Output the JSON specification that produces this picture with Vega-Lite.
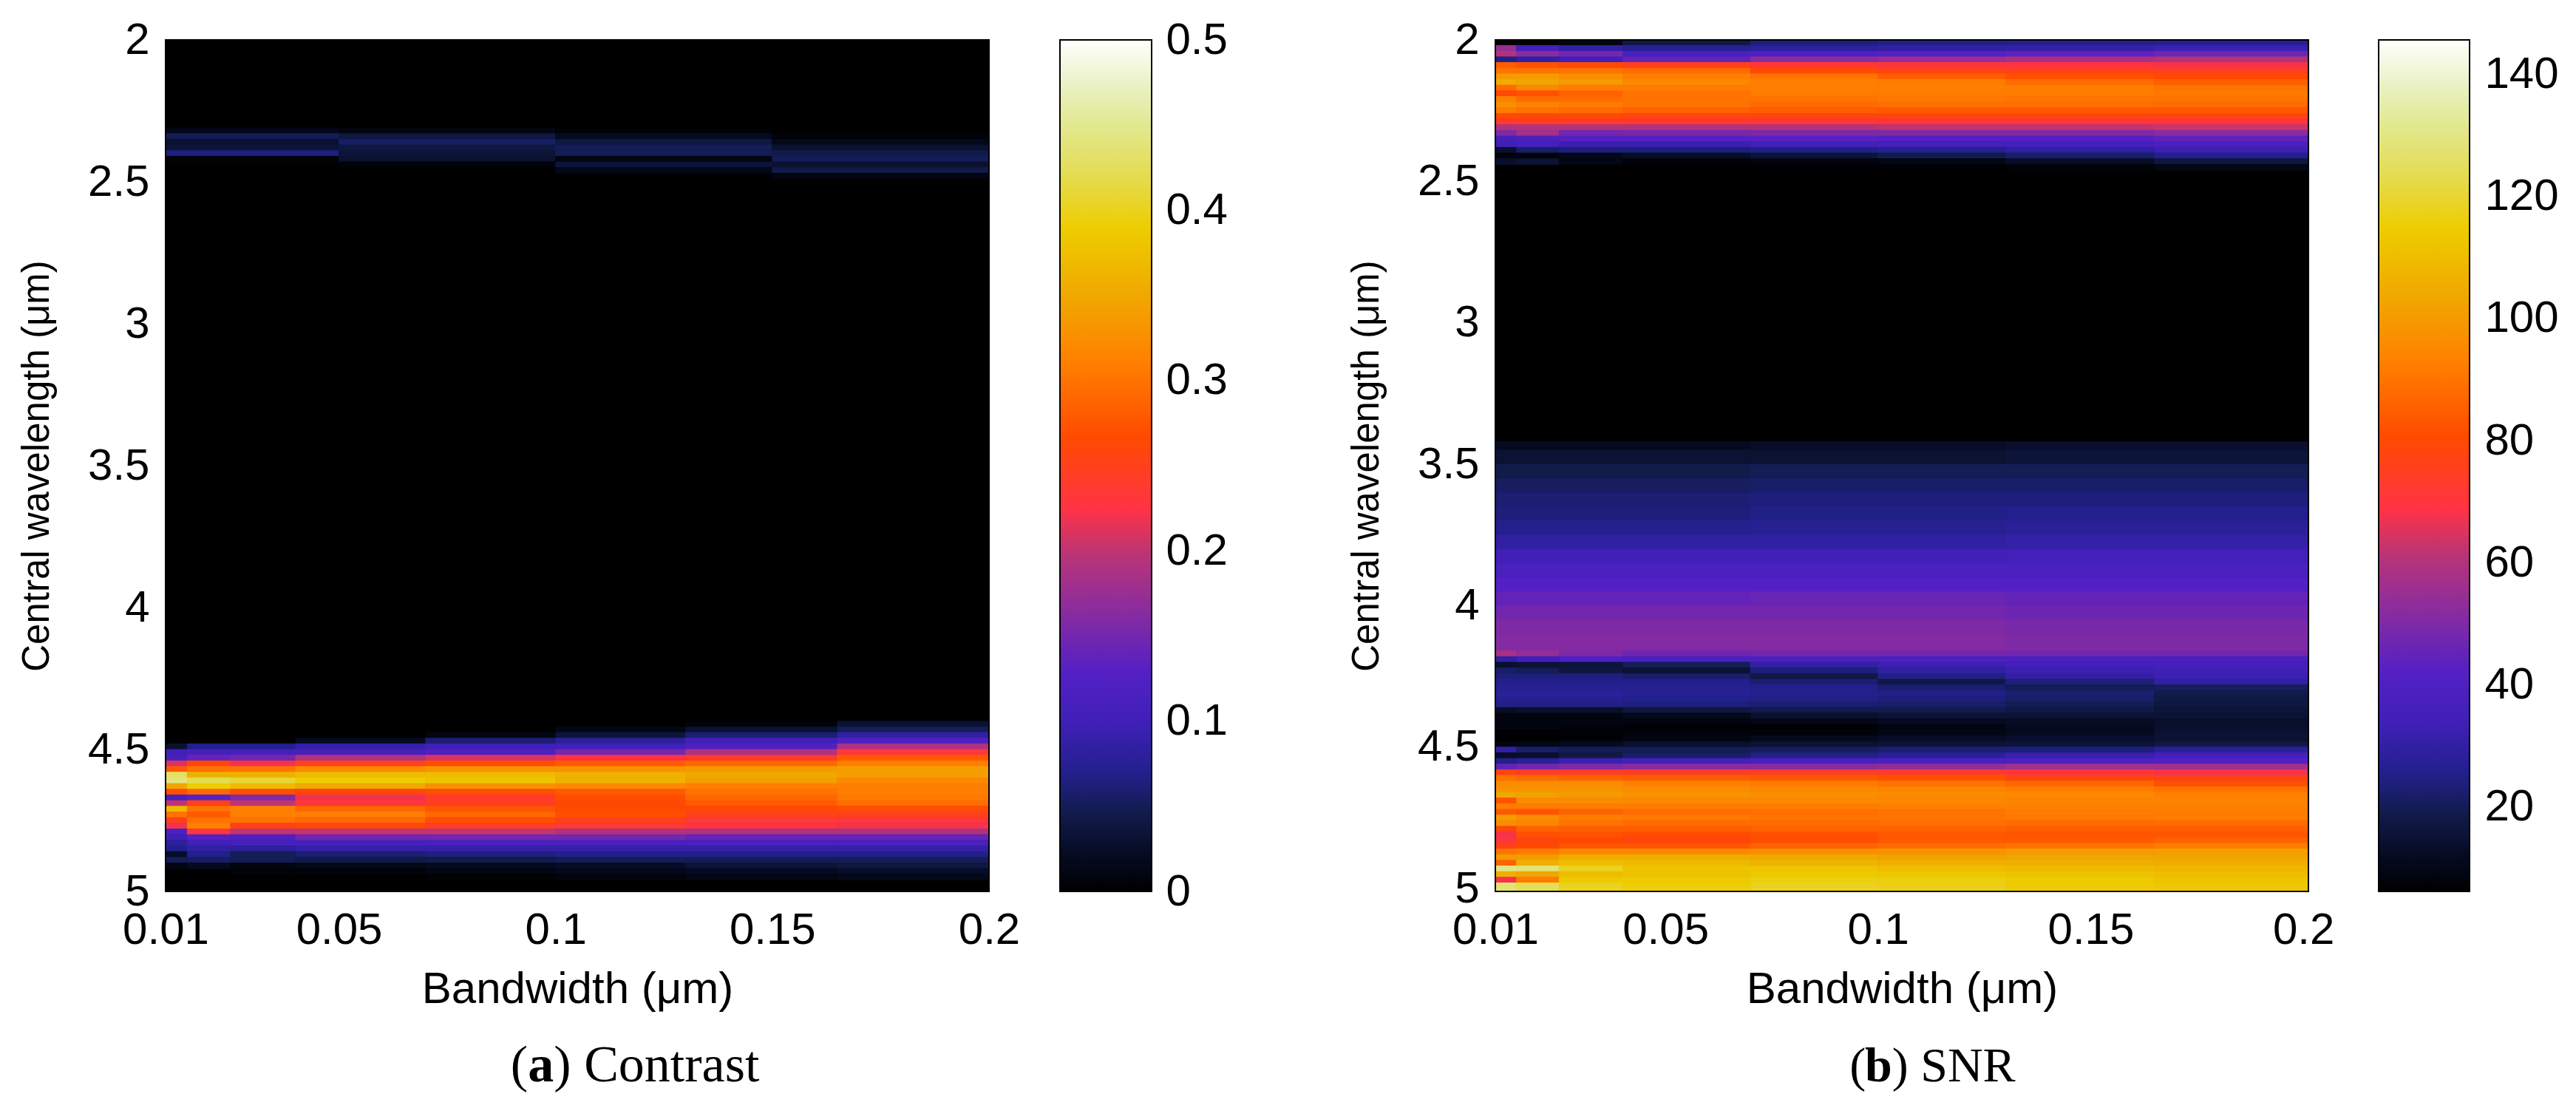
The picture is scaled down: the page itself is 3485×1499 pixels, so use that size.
{"$schema":"https://vega.github.io/schema/vega-lite/v6.json","background":"white","padding":{"left":24,"top":24,"right":10,"bottom":10},"spacing":162,"resolve":{"scale":{"color":"independent","stroke":"independent"}},
"config":{"view":{"stroke":null},"axis":{"grid":false,"labelFont":"Liberation Sans","titleFont":"Liberation Sans","labelFontSize":60,"titleFontSize":60,"titleFontWeight":"normal","labelColor":"black","titleColor":"black","domainColor":"black","tickColor":"black","labelFlush":false,"labelOverlap":false,"zindex":1}},
"datasets":{
"frameA":[{"x":0.01,"X":0.2,"y":2,"Y":5}],
"frameB":[{"x":0.01,"X":0.2012,"y":2,"Y":5.01}],
"a":[{"x":0.01,"X":0.2,"y":2,"Y":5,"v":0},
{"x":0.01,"X":0.05,"y":2.31,"Y":2.33,"v":0.015},{"x":0.05,"X":0.1,"y":2.31,"Y":2.33,"v":0.01},{"x":0.1,"X":0.15,"y":2.31,"Y":2.33,"v":0.003},
{"x":0.01,"X":0.05,"y":2.33,"Y":2.35,"v":0.05},{"x":0.05,"X":0.1,"y":2.33,"Y":2.35,"v":0.04},{"x":0.1,"X":0.15,"y":2.33,"Y":2.35,"v":0.02},{"x":0.15,"X":0.2,"y":2.33,"Y":2.35,"v":0.005},
{"x":0.01,"X":0.05,"y":2.35,"Y":2.37,"v":0.03},{"x":0.05,"X":0.1,"y":2.35,"Y":2.37,"v":0.055},{"x":0.1,"X":0.15,"y":2.35,"Y":2.37,"v":0.04},{"x":0.15,"X":0.2,"y":2.35,"Y":2.37,"v":0.015},
{"x":0.01,"X":0.05,"y":2.37,"Y":2.39,"v":0.035},{"x":0.05,"X":0.1,"y":2.37,"Y":2.39,"v":0.04},{"x":0.1,"X":0.15,"y":2.37,"Y":2.39,"v":0.05},{"x":0.15,"X":0.2,"y":2.37,"Y":2.39,"v":0.03},
{"x":0.01,"X":0.05,"y":2.39,"Y":2.41,"v":0.065},{"x":0.05,"X":0.1,"y":2.39,"Y":2.41,"v":0.035},{"x":0.1,"X":0.15,"y":2.39,"Y":2.41,"v":0.05},{"x":0.15,"X":0.2,"y":2.39,"Y":2.41,"v":0.045},
{"x":0.01,"X":0.05,"y":2.41,"Y":2.43,"v":0.005},{"x":0.05,"X":0.1,"y":2.41,"Y":2.43,"v":0.03},{"x":0.1,"X":0.15,"y":2.41,"Y":2.43,"v":0.01},{"x":0.15,"X":0.2,"y":2.41,"Y":2.43,"v":0.05},
{"x":0.05,"X":0.1,"y":2.43,"Y":2.45,"v":0.005},{"x":0.1,"X":0.15,"y":2.43,"Y":2.45,"v":0.035},{"x":0.15,"X":0.2,"y":2.43,"Y":2.45,"v":0.03},
{"x":0.1,"X":0.15,"y":2.45,"Y":2.47,"v":0.015},{"x":0.15,"X":0.2,"y":2.45,"Y":2.47,"v":0.045},
{"x":0.15,"X":0.2,"y":2.47,"Y":2.49,"v":0.01},
{"x":0.13,"X":0.165,"y":4.4,"Y":4.42,"v":0.005},{"x":0.165,"X":0.2,"y":4.4,"Y":4.42,"v":0.03},
{"x":0.1,"X":0.13,"y":4.42,"Y":4.44,"v":0.012},{"x":0.13,"X":0.165,"y":4.42,"Y":4.44,"v":0.03},{"x":0.165,"X":0.2,"y":4.42,"Y":4.44,"v":0.05},
{"x":0.07,"X":0.1,"y":4.44,"Y":4.46,"v":0.01},{"x":0.1,"X":0.13,"y":4.44,"Y":4.46,"v":0.035},{"x":0.13,"X":0.165,"y":4.44,"Y":4.46,"v":0.06},{"x":0.165,"X":0.2,"y":4.44,"Y":4.46,"v":0.085},
{"x":0.04,"X":0.07,"y":4.46,"Y":4.48,"v":0.02},{"x":0.07,"X":0.1,"y":4.46,"Y":4.48,"v":0.06},{"x":0.1,"X":0.13,"y":4.46,"Y":4.48,"v":0.08},{"x":0.13,"X":0.165,"y":4.46,"Y":4.48,"v":0.1},{"x":0.165,"X":0.2,"y":4.46,"Y":4.48,"v":0.12},
{"x":0.01,"X":0.015,"y":4.48,"Y":4.5,"v":0.03},{"x":0.015,"X":0.025,"y":4.48,"Y":4.5,"v":0.07},{"x":0.025,"X":0.04,"y":4.48,"Y":4.5,"v":0.07},{"x":0.04,"X":0.07,"y":4.48,"Y":4.5,"v":0.09},{"x":0.07,"X":0.1,"y":4.48,"Y":4.5,"v":0.1},{"x":0.1,"X":0.13,"y":4.48,"Y":4.5,"v":0.105},{"x":0.13,"X":0.165,"y":4.48,"Y":4.5,"v":0.125},{"x":0.165,"X":0.2,"y":4.48,"Y":4.5,"v":0.19},
{"x":0.01,"X":0.015,"y":4.5,"Y":4.52,"v":0.1},{"x":0.015,"X":0.025,"y":4.5,"Y":4.52,"v":0.11},{"x":0.025,"X":0.04,"y":4.5,"Y":4.52,"v":0.11},{"x":0.04,"X":0.07,"y":4.5,"Y":4.52,"v":0.11},{"x":0.07,"X":0.1,"y":4.5,"Y":4.52,"v":0.12},{"x":0.1,"X":0.13,"y":4.5,"Y":4.52,"v":0.15},{"x":0.13,"X":0.165,"y":4.5,"Y":4.52,"v":0.19},{"x":0.165,"X":0.2,"y":4.5,"Y":4.52,"v":0.23},
{"x":0.01,"X":0.015,"y":4.52,"Y":4.54,"v":0.11},{"x":0.015,"X":0.025,"y":4.52,"Y":4.54,"v":0.14},{"x":0.025,"X":0.04,"y":4.52,"Y":4.54,"v":0.15},{"x":0.04,"X":0.07,"y":4.52,"Y":4.54,"v":0.19},{"x":0.07,"X":0.1,"y":4.52,"Y":4.54,"v":0.21},{"x":0.1,"X":0.13,"y":4.52,"Y":4.54,"v":0.225},{"x":0.13,"X":0.165,"y":4.52,"Y":4.54,"v":0.24},{"x":0.165,"X":0.2,"y":4.52,"Y":4.54,"v":0.28},
{"x":0.01,"X":0.015,"y":4.54,"Y":4.56,"v":0.21},{"x":0.015,"X":0.025,"y":4.54,"Y":4.56,"v":0.26},{"x":0.025,"X":0.04,"y":4.54,"Y":4.56,"v":0.22},{"x":0.04,"X":0.07,"y":4.54,"Y":4.56,"v":0.25},{"x":0.07,"X":0.1,"y":4.54,"Y":4.56,"v":0.27},{"x":0.1,"X":0.13,"y":4.54,"Y":4.56,"v":0.28},{"x":0.13,"X":0.165,"y":4.54,"Y":4.56,"v":0.29},{"x":0.165,"X":0.2,"y":4.54,"Y":4.56,"v":0.31},
{"x":0.01,"X":0.015,"y":4.56,"Y":4.58,"v":0.28},{"x":0.015,"X":0.025,"y":4.56,"Y":4.58,"v":0.3},{"x":0.025,"X":0.04,"y":4.56,"Y":4.58,"v":0.3},{"x":0.04,"X":0.07,"y":4.56,"Y":4.58,"v":0.32},{"x":0.07,"X":0.1,"y":4.56,"Y":4.58,"v":0.33},{"x":0.1,"X":0.13,"y":4.56,"Y":4.58,"v":0.33},{"x":0.13,"X":0.165,"y":4.56,"Y":4.58,"v":0.335},{"x":0.165,"X":0.2,"y":4.56,"Y":4.58,"v":0.34},
{"x":0.01,"X":0.015,"y":4.58,"Y":4.6,"v":0.43},{"x":0.015,"X":0.025,"y":4.58,"Y":4.6,"v":0.36},{"x":0.025,"X":0.04,"y":4.58,"Y":4.6,"v":0.36},{"x":0.04,"X":0.07,"y":4.58,"Y":4.6,"v":0.37},{"x":0.07,"X":0.1,"y":4.58,"Y":4.6,"v":0.37},{"x":0.1,"X":0.13,"y":4.58,"Y":4.6,"v":0.36},{"x":0.13,"X":0.165,"y":4.58,"Y":4.6,"v":0.35},{"x":0.165,"X":0.2,"y":4.58,"Y":4.6,"v":0.34},
{"x":0.01,"X":0.015,"y":4.6,"Y":4.62,"v":0.44},{"x":0.015,"X":0.025,"y":4.6,"Y":4.62,"v":0.42},{"x":0.025,"X":0.04,"y":4.6,"Y":4.62,"v":0.41},{"x":0.04,"X":0.07,"y":4.6,"Y":4.62,"v":0.39},{"x":0.07,"X":0.1,"y":4.6,"Y":4.62,"v":0.38},{"x":0.1,"X":0.13,"y":4.6,"Y":4.62,"v":0.36},{"x":0.13,"X":0.165,"y":4.6,"Y":4.62,"v":0.34},{"x":0.165,"X":0.2,"y":4.6,"Y":4.62,"v":0.32},
{"x":0.01,"X":0.015,"y":4.62,"Y":4.64,"v":0.35},{"x":0.015,"X":0.025,"y":4.62,"Y":4.64,"v":0.39},{"x":0.025,"X":0.04,"y":4.62,"Y":4.64,"v":0.37},{"x":0.04,"X":0.07,"y":4.62,"Y":4.64,"v":0.35},{"x":0.07,"X":0.1,"y":4.62,"Y":4.64,"v":0.33},{"x":0.1,"X":0.13,"y":4.62,"Y":4.64,"v":0.32},{"x":0.13,"X":0.165,"y":4.62,"Y":4.64,"v":0.31},{"x":0.165,"X":0.2,"y":4.62,"Y":4.64,"v":0.31},
{"x":0.01,"X":0.015,"y":4.64,"Y":4.66,"v":0.27},{"x":0.015,"X":0.025,"y":4.64,"Y":4.66,"v":0.29},{"x":0.025,"X":0.04,"y":4.64,"Y":4.66,"v":0.27},{"x":0.04,"X":0.07,"y":4.64,"Y":4.66,"v":0.26},{"x":0.07,"X":0.1,"y":4.64,"Y":4.66,"v":0.27},{"x":0.1,"X":0.13,"y":4.64,"Y":4.66,"v":0.28},{"x":0.13,"X":0.165,"y":4.64,"Y":4.66,"v":0.3},{"x":0.165,"X":0.2,"y":4.64,"Y":4.66,"v":0.31},
{"x":0.01,"X":0.015,"y":4.66,"Y":4.68,"v":0.11},{"x":0.015,"X":0.025,"y":4.66,"Y":4.68,"v":0.13},{"x":0.025,"X":0.04,"y":4.66,"Y":4.68,"v":0.16},{"x":0.04,"X":0.07,"y":4.66,"Y":4.68,"v":0.22},{"x":0.07,"X":0.1,"y":4.66,"Y":4.68,"v":0.24},{"x":0.1,"X":0.13,"y":4.66,"Y":4.68,"v":0.27},{"x":0.13,"X":0.165,"y":4.66,"Y":4.68,"v":0.29},{"x":0.165,"X":0.2,"y":4.66,"Y":4.68,"v":0.305},
{"x":0.01,"X":0.015,"y":4.68,"Y":4.7,"v":0.2},{"x":0.015,"X":0.025,"y":4.68,"Y":4.7,"v":0.25},{"x":0.025,"X":0.04,"y":4.68,"Y":4.7,"v":0.2},{"x":0.04,"X":0.07,"y":4.68,"Y":4.7,"v":0.23},{"x":0.07,"X":0.1,"y":4.68,"Y":4.7,"v":0.245},{"x":0.1,"X":0.13,"y":4.68,"Y":4.7,"v":0.265},{"x":0.13,"X":0.165,"y":4.68,"Y":4.7,"v":0.28},{"x":0.165,"X":0.2,"y":4.68,"Y":4.7,"v":0.295},
{"x":0.01,"X":0.015,"y":4.7,"Y":4.72,"v":0.37},{"x":0.015,"X":0.025,"y":4.7,"Y":4.72,"v":0.3},{"x":0.025,"X":0.04,"y":4.7,"Y":4.72,"v":0.31},{"x":0.04,"X":0.07,"y":4.7,"Y":4.72,"v":0.29},{"x":0.07,"X":0.1,"y":4.7,"Y":4.72,"v":0.275},{"x":0.1,"X":0.13,"y":4.7,"Y":4.72,"v":0.265},{"x":0.13,"X":0.165,"y":4.7,"Y":4.72,"v":0.265},{"x":0.165,"X":0.2,"y":4.7,"Y":4.72,"v":0.27},
{"x":0.01,"X":0.015,"y":4.72,"Y":4.74,"v":0.3},{"x":0.015,"X":0.025,"y":4.72,"Y":4.74,"v":0.28},{"x":0.025,"X":0.04,"y":4.72,"Y":4.74,"v":0.31},{"x":0.04,"X":0.07,"y":4.72,"Y":4.74,"v":0.31},{"x":0.07,"X":0.1,"y":4.72,"Y":4.74,"v":0.29},{"x":0.1,"X":0.13,"y":4.72,"Y":4.74,"v":0.27},{"x":0.13,"X":0.165,"y":4.72,"Y":4.74,"v":0.25},{"x":0.165,"X":0.2,"y":4.72,"Y":4.74,"v":0.25},
{"x":0.01,"X":0.015,"y":4.74,"Y":4.76,"v":0.25},{"x":0.015,"X":0.025,"y":4.74,"Y":4.76,"v":0.3},{"x":0.025,"X":0.04,"y":4.74,"Y":4.76,"v":0.3},{"x":0.04,"X":0.07,"y":4.74,"Y":4.76,"v":0.29},{"x":0.07,"X":0.1,"y":4.74,"Y":4.76,"v":0.27},{"x":0.1,"X":0.13,"y":4.74,"Y":4.76,"v":0.25},{"x":0.13,"X":0.165,"y":4.74,"Y":4.76,"v":0.235},{"x":0.165,"X":0.2,"y":4.74,"Y":4.76,"v":0.23},
{"x":0.01,"X":0.015,"y":4.76,"Y":4.78,"v":0.22},{"x":0.015,"X":0.025,"y":4.76,"Y":4.78,"v":0.31},{"x":0.025,"X":0.04,"y":4.76,"Y":4.78,"v":0.25},{"x":0.04,"X":0.07,"y":4.76,"Y":4.78,"v":0.26},{"x":0.07,"X":0.1,"y":4.76,"Y":4.78,"v":0.245},{"x":0.1,"X":0.13,"y":4.76,"Y":4.78,"v":0.235},{"x":0.13,"X":0.165,"y":4.76,"Y":4.78,"v":0.225},{"x":0.165,"X":0.2,"y":4.76,"Y":4.78,"v":0.22},
{"x":0.01,"X":0.015,"y":4.78,"Y":4.8,"v":0.12},{"x":0.015,"X":0.025,"y":4.78,"Y":4.8,"v":0.23},{"x":0.025,"X":0.04,"y":4.78,"Y":4.8,"v":0.2},{"x":0.04,"X":0.07,"y":4.78,"Y":4.8,"v":0.2},{"x":0.07,"X":0.1,"y":4.78,"Y":4.8,"v":0.2},{"x":0.1,"X":0.13,"y":4.78,"Y":4.8,"v":0.19},{"x":0.13,"X":0.165,"y":4.78,"Y":4.8,"v":0.19},{"x":0.165,"X":0.2,"y":4.78,"Y":4.8,"v":0.19},
{"x":0.01,"X":0.015,"y":4.8,"Y":4.82,"v":0.1},{"x":0.015,"X":0.025,"y":4.8,"Y":4.82,"v":0.13},{"x":0.025,"X":0.04,"y":4.8,"Y":4.82,"v":0.12},{"x":0.04,"X":0.07,"y":4.8,"Y":4.82,"v":0.15},{"x":0.07,"X":0.1,"y":4.8,"Y":4.82,"v":0.15},{"x":0.1,"X":0.13,"y":4.8,"Y":4.82,"v":0.15},{"x":0.13,"X":0.165,"y":4.8,"Y":4.82,"v":0.14},{"x":0.165,"X":0.2,"y":4.8,"Y":4.82,"v":0.14},
{"x":0.01,"X":0.015,"y":4.82,"Y":4.84,"v":0.08},{"x":0.015,"X":0.025,"y":4.82,"Y":4.84,"v":0.1},{"x":0.025,"X":0.04,"y":4.82,"Y":4.84,"v":0.11},{"x":0.04,"X":0.07,"y":4.82,"Y":4.84,"v":0.11},{"x":0.07,"X":0.1,"y":4.82,"Y":4.84,"v":0.115},{"x":0.1,"X":0.13,"y":4.82,"Y":4.84,"v":0.115},{"x":0.13,"X":0.165,"y":4.82,"Y":4.84,"v":0.115},{"x":0.165,"X":0.2,"y":4.82,"Y":4.84,"v":0.115},
{"x":0.01,"X":0.015,"y":4.84,"Y":4.86,"v":0.07},{"x":0.015,"X":0.025,"y":4.84,"Y":4.86,"v":0.085},{"x":0.025,"X":0.04,"y":4.84,"Y":4.86,"v":0.08},{"x":0.04,"X":0.07,"y":4.84,"Y":4.86,"v":0.09},{"x":0.07,"X":0.1,"y":4.84,"Y":4.86,"v":0.09},{"x":0.1,"X":0.13,"y":4.84,"Y":4.86,"v":0.09},{"x":0.13,"X":0.165,"y":4.84,"Y":4.86,"v":0.09},{"x":0.165,"X":0.2,"y":4.84,"Y":4.86,"v":0.09},
{"x":0.01,"X":0.015,"y":4.86,"Y":4.88,"v":0.025},{"x":0.015,"X":0.025,"y":4.86,"Y":4.88,"v":0.07},{"x":0.025,"X":0.04,"y":4.86,"Y":4.88,"v":0.05},{"x":0.04,"X":0.07,"y":4.86,"Y":4.88,"v":0.06},{"x":0.07,"X":0.1,"y":4.86,"Y":4.88,"v":0.065},{"x":0.1,"X":0.13,"y":4.86,"Y":4.88,"v":0.07},{"x":0.13,"X":0.165,"y":4.86,"Y":4.88,"v":0.07},{"x":0.165,"X":0.2,"y":4.86,"Y":4.88,"v":0.07},
{"x":0.01,"X":0.015,"y":4.88,"Y":4.9,"v":0.05},{"x":0.015,"X":0.025,"y":4.88,"Y":4.9,"v":0.055},{"x":0.025,"X":0.04,"y":4.88,"Y":4.9,"v":0.05},{"x":0.04,"X":0.07,"y":4.88,"Y":4.9,"v":0.045},{"x":0.07,"X":0.1,"y":4.88,"Y":4.9,"v":0.045},{"x":0.1,"X":0.13,"y":4.88,"Y":4.9,"v":0.05},{"x":0.13,"X":0.165,"y":4.88,"Y":4.9,"v":0.05},{"x":0.165,"X":0.2,"y":4.88,"Y":4.9,"v":0.05},
{"x":0.01,"X":0.015,"y":4.9,"Y":4.92,"v":0.01},{"x":0.015,"X":0.025,"y":4.9,"Y":4.92,"v":0.02},{"x":0.025,"X":0.04,"y":4.9,"Y":4.92,"v":0.01},{"x":0.04,"X":0.07,"y":4.9,"Y":4.92,"v":0.015},{"x":0.07,"X":0.1,"y":4.9,"Y":4.92,"v":0.02},{"x":0.1,"X":0.13,"y":4.9,"Y":4.92,"v":0.025},{"x":0.13,"X":0.165,"y":4.9,"Y":4.92,"v":0.035},{"x":0.165,"X":0.2,"y":4.9,"Y":4.92,"v":0.04},
{"x":0.025,"X":0.04,"y":4.92,"Y":4.94,"v":0.005},{"x":0.04,"X":0.07,"y":4.92,"Y":4.94,"v":0.005},{"x":0.07,"X":0.1,"y":4.92,"Y":4.94,"v":0.01},{"x":0.1,"X":0.13,"y":4.92,"Y":4.94,"v":0.015},{"x":0.13,"X":0.165,"y":4.92,"Y":4.94,"v":0.02},{"x":0.165,"X":0.2,"y":4.92,"Y":4.94,"v":0.025},
{"x":0.07,"X":0.1,"y":4.94,"Y":4.96,"v":0.003},{"x":0.1,"X":0.13,"y":4.94,"Y":4.96,"v":0.008},{"x":0.13,"X":0.165,"y":4.94,"Y":4.96,"v":0.012},{"x":0.165,"X":0.2,"y":4.94,"Y":4.96,"v":0.015}],
"b":[{"x":0.01,"X":0.2012,"y":2,"Y":5.01,"v":6.2},
{"x":0.01,"X":0.015,"y":2,"Y":2.02,"v":7},{"x":0.015,"X":0.025,"y":2,"Y":2.02,"v":7},{"x":0.025,"X":0.04,"y":2,"Y":2.02,"v":9},{"x":0.04,"X":0.07,"y":2,"Y":2.02,"v":18},{"x":0.07,"X":0.1,"y":2,"Y":2.02,"v":24},{"x":0.1,"X":0.13,"y":2,"Y":2.02,"v":25},{"x":0.13,"X":0.165,"y":2,"Y":2.02,"v":26},{"x":0.165,"X":0.2012,"y":2,"Y":2.02,"v":27},
{"x":0.01,"X":0.015,"y":2.02,"Y":2.04,"v":55},{"x":0.015,"X":0.025,"y":2.02,"Y":2.04,"v":36},{"x":0.025,"X":0.04,"y":2.02,"Y":2.04,"v":30},{"x":0.04,"X":0.07,"y":2.02,"Y":2.04,"v":27},{"x":0.07,"X":0.1,"y":2.02,"Y":2.04,"v":29},{"x":0.1,"X":0.13,"y":2.02,"Y":2.04,"v":30},{"x":0.13,"X":0.165,"y":2.02,"Y":2.04,"v":31},{"x":0.165,"X":0.2012,"y":2.02,"Y":2.04,"v":33},
{"x":0.01,"X":0.015,"y":2.04,"Y":2.06,"v":60},{"x":0.015,"X":0.025,"y":2.04,"Y":2.06,"v":52},{"x":0.025,"X":0.04,"y":2.04,"Y":2.06,"v":48},{"x":0.04,"X":0.07,"y":2.04,"Y":2.06,"v":38},{"x":0.07,"X":0.1,"y":2.04,"Y":2.06,"v":40},{"x":0.1,"X":0.13,"y":2.04,"Y":2.06,"v":42},{"x":0.13,"X":0.165,"y":2.04,"Y":2.06,"v":44},{"x":0.165,"X":0.2012,"y":2.04,"Y":2.06,"v":47},
{"x":0.01,"X":0.015,"y":2.06,"Y":2.08,"v":25},{"x":0.015,"X":0.025,"y":2.06,"Y":2.08,"v":30},{"x":0.025,"X":0.04,"y":2.06,"Y":2.08,"v":35},{"x":0.04,"X":0.07,"y":2.06,"Y":2.08,"v":45},{"x":0.07,"X":0.1,"y":2.06,"Y":2.08,"v":52},{"x":0.1,"X":0.13,"y":2.06,"Y":2.08,"v":55},{"x":0.13,"X":0.165,"y":2.06,"Y":2.08,"v":58},{"x":0.165,"X":0.2012,"y":2.06,"Y":2.08,"v":60},
{"x":0.01,"X":0.015,"y":2.08,"Y":2.1,"v":85},{"x":0.015,"X":0.025,"y":2.08,"Y":2.1,"v":82},{"x":0.025,"X":0.04,"y":2.08,"Y":2.1,"v":80},{"x":0.04,"X":0.07,"y":2.08,"Y":2.1,"v":76},{"x":0.07,"X":0.1,"y":2.08,"Y":2.1,"v":72},{"x":0.1,"X":0.13,"y":2.08,"Y":2.1,"v":70},{"x":0.13,"X":0.165,"y":2.08,"Y":2.1,"v":69},{"x":0.165,"X":0.2012,"y":2.08,"Y":2.1,"v":68},
{"x":0.01,"X":0.015,"y":2.1,"Y":2.12,"v":90},{"x":0.015,"X":0.025,"y":2.1,"Y":2.12,"v":90},{"x":0.025,"X":0.04,"y":2.1,"Y":2.12,"v":90},{"x":0.04,"X":0.07,"y":2.1,"Y":2.12,"v":88},{"x":0.07,"X":0.1,"y":2.1,"Y":2.12,"v":80},{"x":0.1,"X":0.13,"y":2.1,"Y":2.12,"v":77},{"x":0.13,"X":0.165,"y":2.1,"Y":2.12,"v":76},{"x":0.165,"X":0.2012,"y":2.1,"Y":2.12,"v":75},
{"x":0.01,"X":0.015,"y":2.12,"Y":2.14,"v":100},{"x":0.015,"X":0.025,"y":2.12,"Y":2.14,"v":100},{"x":0.025,"X":0.04,"y":2.12,"Y":2.14,"v":97},{"x":0.04,"X":0.07,"y":2.12,"Y":2.14,"v":93},{"x":0.07,"X":0.1,"y":2.12,"Y":2.14,"v":90},{"x":0.1,"X":0.13,"y":2.12,"Y":2.14,"v":85},{"x":0.13,"X":0.165,"y":2.12,"Y":2.14,"v":82},{"x":0.165,"X":0.2012,"y":2.12,"Y":2.14,"v":80},
{"x":0.01,"X":0.015,"y":2.14,"Y":2.16,"v":105},{"x":0.015,"X":0.025,"y":2.14,"Y":2.16,"v":103},{"x":0.025,"X":0.04,"y":2.14,"Y":2.16,"v":100},{"x":0.04,"X":0.07,"y":2.14,"Y":2.16,"v":95},{"x":0.07,"X":0.1,"y":2.14,"Y":2.16,"v":93},{"x":0.1,"X":0.13,"y":2.14,"Y":2.16,"v":92},{"x":0.13,"X":0.165,"y":2.14,"Y":2.16,"v":88},{"x":0.165,"X":0.2012,"y":2.14,"Y":2.16,"v":85},
{"x":0.01,"X":0.015,"y":2.16,"Y":2.18,"v":88},{"x":0.015,"X":0.025,"y":2.16,"Y":2.18,"v":95},{"x":0.025,"X":0.04,"y":2.16,"Y":2.18,"v":92},{"x":0.04,"X":0.07,"y":2.16,"Y":2.18,"v":92},{"x":0.07,"X":0.1,"y":2.16,"Y":2.18,"v":93},{"x":0.1,"X":0.13,"y":2.16,"Y":2.18,"v":93},{"x":0.13,"X":0.165,"y":2.16,"Y":2.18,"v":92},{"x":0.165,"X":0.2012,"y":2.16,"Y":2.18,"v":90},
{"x":0.01,"X":0.015,"y":2.18,"Y":2.2,"v":80},{"x":0.015,"X":0.025,"y":2.18,"Y":2.2,"v":82},{"x":0.025,"X":0.04,"y":2.18,"Y":2.2,"v":86},{"x":0.04,"X":0.07,"y":2.18,"Y":2.2,"v":90},{"x":0.07,"X":0.1,"y":2.18,"Y":2.2,"v":92},{"x":0.1,"X":0.13,"y":2.18,"Y":2.2,"v":92},{"x":0.13,"X":0.165,"y":2.18,"Y":2.2,"v":92},{"x":0.165,"X":0.2012,"y":2.18,"Y":2.2,"v":91},
{"x":0.01,"X":0.015,"y":2.2,"Y":2.22,"v":93},{"x":0.015,"X":0.025,"y":2.2,"Y":2.22,"v":88},{"x":0.025,"X":0.04,"y":2.2,"Y":2.22,"v":88},{"x":0.04,"X":0.07,"y":2.2,"Y":2.22,"v":90},{"x":0.07,"X":0.1,"y":2.2,"Y":2.22,"v":90},{"x":0.1,"X":0.13,"y":2.2,"Y":2.22,"v":91},{"x":0.13,"X":0.165,"y":2.2,"Y":2.22,"v":90},{"x":0.165,"X":0.2012,"y":2.2,"Y":2.22,"v":90},
{"x":0.01,"X":0.015,"y":2.22,"Y":2.24,"v":97},{"x":0.015,"X":0.025,"y":2.22,"Y":2.24,"v":94},{"x":0.025,"X":0.04,"y":2.22,"Y":2.24,"v":92},{"x":0.04,"X":0.07,"y":2.22,"Y":2.24,"v":90},{"x":0.07,"X":0.1,"y":2.22,"Y":2.24,"v":88},{"x":0.1,"X":0.13,"y":2.22,"Y":2.24,"v":89},{"x":0.13,"X":0.165,"y":2.22,"Y":2.24,"v":89},{"x":0.165,"X":0.2012,"y":2.22,"Y":2.24,"v":88},
{"x":0.01,"X":0.015,"y":2.24,"Y":2.26,"v":92},{"x":0.015,"X":0.025,"y":2.24,"Y":2.26,"v":90},{"x":0.025,"X":0.04,"y":2.24,"Y":2.26,"v":88},{"x":0.04,"X":0.07,"y":2.24,"Y":2.26,"v":86},{"x":0.07,"X":0.1,"y":2.24,"Y":2.26,"v":85},{"x":0.1,"X":0.13,"y":2.24,"Y":2.26,"v":84},{"x":0.13,"X":0.165,"y":2.24,"Y":2.26,"v":84},{"x":0.165,"X":0.2012,"y":2.24,"Y":2.26,"v":84},
{"x":0.01,"X":0.04,"y":2.26,"Y":2.28,"v":80},{"x":0.04,"X":0.2012,"y":2.26,"Y":2.28,"v":78},
{"x":0.01,"X":0.015,"y":2.28,"Y":2.3,"v":72},{"x":0.015,"X":0.025,"y":2.28,"Y":2.3,"v":74},{"x":0.025,"X":0.04,"y":2.28,"Y":2.3,"v":73},{"x":0.04,"X":0.07,"y":2.28,"Y":2.3,"v":72},{"x":0.07,"X":0.1,"y":2.28,"Y":2.3,"v":71},{"x":0.1,"X":0.2012,"y":2.28,"Y":2.3,"v":70},
{"x":0.01,"X":0.1,"y":2.3,"Y":2.32,"v":60},{"x":0.1,"X":0.165,"y":2.3,"Y":2.32,"v":62},{"x":0.165,"X":0.2012,"y":2.3,"Y":2.32,"v":63},
{"x":0.01,"X":0.015,"y":2.32,"Y":2.34,"v":50},{"x":0.015,"X":0.025,"y":2.32,"Y":2.34,"v":57},{"x":0.025,"X":0.04,"y":2.32,"Y":2.34,"v":48},{"x":0.04,"X":0.07,"y":2.32,"Y":2.34,"v":49},{"x":0.07,"X":0.165,"y":2.32,"Y":2.34,"v":50},{"x":0.165,"X":0.2012,"y":2.32,"Y":2.34,"v":52},
{"x":0.01,"X":0.015,"y":2.34,"Y":2.36,"v":36},{"x":0.015,"X":0.025,"y":2.34,"Y":2.36,"v":38},{"x":0.025,"X":0.07,"y":2.34,"Y":2.36,"v":42},{"x":0.07,"X":0.1,"y":2.34,"Y":2.36,"v":43},{"x":0.1,"X":0.165,"y":2.34,"Y":2.36,"v":42},{"x":0.165,"X":0.2012,"y":2.34,"Y":2.36,"v":44},
{"x":0.01,"X":0.015,"y":2.36,"Y":2.38,"v":34},{"x":0.015,"X":0.025,"y":2.36,"Y":2.38,"v":36},{"x":0.025,"X":0.07,"y":2.36,"Y":2.38,"v":33},{"x":0.07,"X":0.1,"y":2.36,"Y":2.38,"v":35},{"x":0.1,"X":0.13,"y":2.36,"Y":2.38,"v":36},{"x":0.13,"X":0.165,"y":2.36,"Y":2.38,"v":37},{"x":0.165,"X":0.2012,"y":2.36,"Y":2.38,"v":39},
{"x":0.01,"X":0.015,"y":2.38,"Y":2.4,"v":14},{"x":0.015,"X":0.025,"y":2.38,"Y":2.4,"v":22},{"x":0.025,"X":0.07,"y":2.38,"Y":2.4,"v":24},{"x":0.07,"X":0.1,"y":2.38,"Y":2.4,"v":25},{"x":0.1,"X":0.13,"y":2.38,"Y":2.4,"v":27},{"x":0.13,"X":0.165,"y":2.38,"Y":2.4,"v":29},{"x":0.165,"X":0.2012,"y":2.38,"Y":2.4,"v":33},
{"x":0.01,"X":0.025,"y":2.4,"Y":2.42,"v":8},{"x":0.025,"X":0.04,"y":2.4,"Y":2.42,"v":10},{"x":0.04,"X":0.07,"y":2.4,"Y":2.42,"v":13},{"x":0.07,"X":0.1,"y":2.4,"Y":2.42,"v":16},{"x":0.1,"X":0.13,"y":2.4,"Y":2.42,"v":19},{"x":0.13,"X":0.165,"y":2.4,"Y":2.42,"v":22},{"x":0.165,"X":0.2012,"y":2.4,"Y":2.42,"v":26},
{"x":0.01,"X":0.015,"y":2.42,"Y":2.44,"v":14},{"x":0.015,"X":0.025,"y":2.42,"Y":2.44,"v":15},{"x":0.025,"X":0.04,"y":2.42,"Y":2.44,"v":10},{"x":0.04,"X":0.07,"y":2.42,"Y":2.44,"v":8},{"x":0.07,"X":0.1,"y":2.42,"Y":2.44,"v":9},{"x":0.1,"X":0.13,"y":2.42,"Y":2.44,"v":10},{"x":0.13,"X":0.165,"y":2.42,"Y":2.44,"v":13},{"x":0.165,"X":0.2012,"y":2.42,"Y":2.44,"v":17},
{"x":0.07,"X":0.13,"y":2.44,"Y":2.46,"v":7},{"x":0.13,"X":0.165,"y":2.44,"Y":2.46,"v":8},{"x":0.165,"X":0.2012,"y":2.44,"Y":2.46,"v":10},
{"x":0.01,"X":0.07,"y":3.42,"Y":3.45,"v":12},{"x":0.07,"X":0.13,"y":3.42,"Y":3.45,"v":13},{"x":0.13,"X":0.2012,"y":3.42,"Y":3.45,"v":14},
{"x":0.01,"X":0.07,"y":3.45,"Y":3.5,"v":15},{"x":0.07,"X":0.13,"y":3.45,"Y":3.5,"v":15},{"x":0.13,"X":0.2012,"y":3.45,"Y":3.5,"v":16},
{"x":0.01,"X":0.07,"y":3.5,"Y":3.55,"v":19},{"x":0.07,"X":0.13,"y":3.5,"Y":3.55,"v":20},{"x":0.13,"X":0.2012,"y":3.5,"Y":3.55,"v":20},
{"x":0.01,"X":0.07,"y":3.55,"Y":3.6,"v":21},{"x":0.07,"X":0.13,"y":3.55,"Y":3.6,"v":22},{"x":0.13,"X":0.2012,"y":3.55,"Y":3.6,"v":22},
{"x":0.01,"X":0.07,"y":3.6,"Y":3.65,"v":23},{"x":0.07,"X":0.13,"y":3.6,"Y":3.65,"v":24},{"x":0.13,"X":0.2012,"y":3.6,"Y":3.65,"v":24},
{"x":0.01,"X":0.07,"y":3.65,"Y":3.7,"v":24},{"x":0.07,"X":0.13,"y":3.65,"Y":3.7,"v":25},{"x":0.13,"X":0.2012,"y":3.65,"Y":3.7,"v":26},
{"x":0.01,"X":0.07,"y":3.7,"Y":3.75,"v":26},{"x":0.07,"X":0.13,"y":3.7,"Y":3.75,"v":27},{"x":0.13,"X":0.2012,"y":3.7,"Y":3.75,"v":28},
{"x":0.01,"X":0.07,"y":3.75,"Y":3.8,"v":30},{"x":0.07,"X":0.13,"y":3.75,"Y":3.8,"v":30},{"x":0.13,"X":0.2012,"y":3.75,"Y":3.8,"v":31},
{"x":0.01,"X":0.07,"y":3.8,"Y":3.85,"v":34},{"x":0.07,"X":0.13,"y":3.8,"Y":3.85,"v":34},{"x":0.13,"X":0.2012,"y":3.8,"Y":3.85,"v":35},
{"x":0.01,"X":0.2012,"y":3.85,"Y":3.9,"v":38},
{"x":0.01,"X":0.2012,"y":3.9,"Y":3.95,"v":42},
{"x":0.01,"X":0.07,"y":3.95,"Y":4,"v":45},{"x":0.07,"X":0.13,"y":3.95,"Y":4,"v":46},{"x":0.13,"X":0.2012,"y":3.95,"Y":4,"v":45},
{"x":0.01,"X":0.13,"y":4,"Y":4.05,"v":48},{"x":0.13,"X":0.2012,"y":4,"Y":4.05,"v":47},
{"x":0.01,"X":0.13,"y":4.05,"Y":4.1,"v":50},{"x":0.13,"X":0.2012,"y":4.05,"Y":4.1,"v":49},
{"x":0.01,"X":0.13,"y":4.1,"Y":4.16,"v":51},{"x":0.13,"X":0.2012,"y":4.1,"Y":4.16,"v":50},
{"x":0.01,"X":0.015,"y":4.16,"Y":4.18,"v":58},{"x":0.015,"X":0.025,"y":4.16,"Y":4.18,"v":54},{"x":0.025,"X":0.04,"y":4.16,"Y":4.18,"v":50},{"x":0.04,"X":0.07,"y":4.16,"Y":4.18,"v":47},{"x":0.07,"X":0.2012,"y":4.16,"Y":4.18,"v":48},
{"x":0.01,"X":0.015,"y":4.18,"Y":4.2,"v":30},{"x":0.015,"X":0.025,"y":4.18,"Y":4.2,"v":35},{"x":0.025,"X":0.04,"y":4.18,"Y":4.2,"v":40},{"x":0.04,"X":0.2012,"y":4.18,"Y":4.2,"v":38},
{"x":0.01,"X":0.015,"y":4.2,"Y":4.22,"v":14},{"x":0.015,"X":0.025,"y":4.2,"Y":4.22,"v":15},{"x":0.025,"X":0.04,"y":4.2,"Y":4.22,"v":16},{"x":0.04,"X":0.07,"y":4.2,"Y":4.22,"v":20},{"x":0.07,"X":0.1,"y":4.2,"Y":4.22,"v":30},{"x":0.1,"X":0.13,"y":4.2,"Y":4.22,"v":33},{"x":0.13,"X":0.165,"y":4.2,"Y":4.22,"v":35},{"x":0.165,"X":0.2012,"y":4.2,"Y":4.22,"v":36},
{"x":0.01,"X":0.015,"y":4.22,"Y":4.24,"v":22},{"x":0.015,"X":0.025,"y":4.22,"Y":4.24,"v":20},{"x":0.025,"X":0.04,"y":4.22,"Y":4.24,"v":17},{"x":0.04,"X":0.07,"y":4.22,"Y":4.24,"v":15},{"x":0.07,"X":0.1,"y":4.22,"Y":4.24,"v":24},{"x":0.1,"X":0.13,"y":4.22,"Y":4.24,"v":30},{"x":0.13,"X":0.165,"y":4.22,"Y":4.24,"v":33},{"x":0.165,"X":0.2012,"y":4.22,"Y":4.24,"v":34},
{"x":0.01,"X":0.04,"y":4.24,"Y":4.26,"v":24},{"x":0.04,"X":0.07,"y":4.24,"Y":4.26,"v":22},{"x":0.07,"X":0.1,"y":4.24,"Y":4.26,"v":18},{"x":0.1,"X":0.13,"y":4.24,"Y":4.26,"v":25},{"x":0.13,"X":0.165,"y":4.24,"Y":4.26,"v":30},{"x":0.165,"X":0.2012,"y":4.24,"Y":4.26,"v":33},
{"x":0.01,"X":0.07,"y":4.26,"Y":4.28,"v":26},{"x":0.07,"X":0.1,"y":4.26,"Y":4.28,"v":23},{"x":0.1,"X":0.13,"y":4.26,"Y":4.28,"v":18},{"x":0.13,"X":0.165,"y":4.26,"Y":4.28,"v":24},{"x":0.165,"X":0.2012,"y":4.26,"Y":4.28,"v":30},
{"x":0.01,"X":0.07,"y":4.28,"Y":4.3,"v":27},{"x":0.07,"X":0.1,"y":4.28,"Y":4.3,"v":26},{"x":0.1,"X":0.13,"y":4.28,"Y":4.3,"v":23},{"x":0.13,"X":0.165,"y":4.28,"Y":4.3,"v":20},{"x":0.165,"X":0.2012,"y":4.28,"Y":4.3,"v":21},
{"x":0.01,"X":0.04,"y":4.3,"Y":4.32,"v":28},{"x":0.04,"X":0.07,"y":4.3,"Y":4.32,"v":27},{"x":0.07,"X":0.1,"y":4.3,"Y":4.32,"v":26},{"x":0.1,"X":0.13,"y":4.3,"Y":4.32,"v":25},{"x":0.13,"X":0.165,"y":4.3,"Y":4.32,"v":23},{"x":0.165,"X":0.2012,"y":4.3,"Y":4.32,"v":19},
{"x":0.01,"X":0.04,"y":4.32,"Y":4.34,"v":27},{"x":0.04,"X":0.07,"y":4.32,"Y":4.34,"v":26},{"x":0.07,"X":0.1,"y":4.32,"Y":4.34,"v":25},{"x":0.1,"X":0.13,"y":4.32,"Y":4.34,"v":24},{"x":0.13,"X":0.165,"y":4.32,"Y":4.34,"v":22},{"x":0.165,"X":0.2012,"y":4.32,"Y":4.34,"v":18},
{"x":0.01,"X":0.04,"y":4.34,"Y":4.36,"v":25},{"x":0.04,"X":0.07,"y":4.34,"Y":4.36,"v":24},{"x":0.07,"X":0.1,"y":4.34,"Y":4.36,"v":23},{"x":0.1,"X":0.13,"y":4.34,"Y":4.36,"v":22},{"x":0.13,"X":0.165,"y":4.34,"Y":4.36,"v":20},{"x":0.165,"X":0.2012,"y":4.34,"Y":4.36,"v":17},
{"x":0.01,"X":0.015,"y":4.36,"Y":4.38,"v":13},{"x":0.015,"X":0.04,"y":4.36,"Y":4.38,"v":14},{"x":0.04,"X":0.07,"y":4.36,"Y":4.38,"v":17},{"x":0.07,"X":0.13,"y":4.36,"Y":4.38,"v":19},{"x":0.13,"X":0.165,"y":4.36,"Y":4.38,"v":18},{"x":0.165,"X":0.2012,"y":4.36,"Y":4.38,"v":16},
{"x":0.01,"X":0.04,"y":4.38,"Y":4.4,"v":9},{"x":0.04,"X":0.07,"y":4.38,"Y":4.4,"v":11},{"x":0.07,"X":0.1,"y":4.38,"Y":4.4,"v":14},{"x":0.1,"X":0.2012,"y":4.38,"Y":4.4,"v":15},
{"x":0.01,"X":0.07,"y":4.4,"Y":4.42,"v":9},{"x":0.07,"X":0.1,"y":4.4,"Y":4.42,"v":10},{"x":0.1,"X":0.13,"y":4.4,"Y":4.42,"v":12},{"x":0.13,"X":0.165,"y":4.4,"Y":4.42,"v":13},{"x":0.165,"X":0.2012,"y":4.4,"Y":4.42,"v":14},
{"x":0.01,"X":0.025,"y":4.42,"Y":4.44,"v":9},{"x":0.025,"X":0.04,"y":4.42,"Y":4.44,"v":8},{"x":0.04,"X":0.1,"y":4.42,"Y":4.44,"v":7},{"x":0.1,"X":0.13,"y":4.42,"Y":4.44,"v":9},{"x":0.13,"X":0.165,"y":4.42,"Y":4.44,"v":12},{"x":0.165,"X":0.2012,"y":4.42,"Y":4.44,"v":14},
{"x":0.01,"X":0.04,"y":4.44,"Y":4.46,"v":7},{"x":0.04,"X":0.1,"y":4.44,"Y":4.46,"v":8},{"x":0.1,"X":0.13,"y":4.44,"Y":4.46,"v":10},{"x":0.13,"X":0.165,"y":4.44,"Y":4.46,"v":12},{"x":0.165,"X":0.2012,"y":4.44,"Y":4.46,"v":15},
{"x":0.025,"X":0.04,"y":4.46,"Y":4.48,"v":7},{"x":0.04,"X":0.07,"y":4.46,"Y":4.48,"v":9},{"x":0.07,"X":0.1,"y":4.46,"Y":4.48,"v":11},{"x":0.1,"X":0.13,"y":4.46,"Y":4.48,"v":13},{"x":0.13,"X":0.165,"y":4.46,"Y":4.48,"v":14},{"x":0.165,"X":0.2012,"y":4.46,"Y":4.48,"v":15},
{"x":0.01,"X":0.015,"y":4.48,"Y":4.5,"v":9},{"x":0.015,"X":0.025,"y":4.48,"Y":4.5,"v":10},{"x":0.025,"X":0.04,"y":4.48,"Y":4.5,"v":12},{"x":0.04,"X":0.07,"y":4.48,"Y":4.5,"v":14},{"x":0.07,"X":0.1,"y":4.48,"Y":4.5,"v":15},{"x":0.1,"X":0.165,"y":4.48,"Y":4.5,"v":16},{"x":0.165,"X":0.2012,"y":4.48,"Y":4.5,"v":18},
{"x":0.01,"X":0.015,"y":4.5,"Y":4.52,"v":30},{"x":0.015,"X":0.025,"y":4.5,"Y":4.52,"v":22},{"x":0.025,"X":0.07,"y":4.5,"Y":4.52,"v":20},{"x":0.07,"X":0.1,"y":4.5,"Y":4.52,"v":21},{"x":0.1,"X":0.13,"y":4.5,"Y":4.52,"v":23},{"x":0.13,"X":0.165,"y":4.5,"Y":4.52,"v":24},{"x":0.165,"X":0.2012,"y":4.5,"Y":4.52,"v":28},
{"x":0.01,"X":0.015,"y":4.52,"Y":4.54,"v":13},{"x":0.015,"X":0.025,"y":4.52,"Y":4.54,"v":14},{"x":0.025,"X":0.04,"y":4.52,"Y":4.54,"v":18},{"x":0.04,"X":0.07,"y":4.52,"Y":4.54,"v":22},{"x":0.07,"X":0.1,"y":4.52,"Y":4.54,"v":25},{"x":0.1,"X":0.13,"y":4.52,"Y":4.54,"v":28},{"x":0.13,"X":0.165,"y":4.52,"Y":4.54,"v":32},{"x":0.165,"X":0.2012,"y":4.52,"Y":4.54,"v":36},
{"x":0.01,"X":0.015,"y":4.54,"Y":4.56,"v":26},{"x":0.015,"X":0.025,"y":4.54,"Y":4.56,"v":28},{"x":0.025,"X":0.04,"y":4.54,"Y":4.56,"v":33},{"x":0.04,"X":0.07,"y":4.54,"Y":4.56,"v":36},{"x":0.07,"X":0.1,"y":4.54,"Y":4.56,"v":38},{"x":0.1,"X":0.13,"y":4.54,"Y":4.56,"v":39},{"x":0.13,"X":0.165,"y":4.54,"Y":4.56,"v":40},{"x":0.165,"X":0.2012,"y":4.54,"Y":4.56,"v":42},
{"x":0.01,"X":0.015,"y":4.56,"Y":4.58,"v":45},{"x":0.015,"X":0.025,"y":4.56,"Y":4.58,"v":48},{"x":0.025,"X":0.04,"y":4.56,"Y":4.58,"v":50},{"x":0.04,"X":0.07,"y":4.56,"Y":4.58,"v":52},{"x":0.07,"X":0.1,"y":4.56,"Y":4.58,"v":52},{"x":0.1,"X":0.13,"y":4.56,"Y":4.58,"v":54},{"x":0.13,"X":0.2012,"y":4.56,"Y":4.58,"v":57},
{"x":0.01,"X":0.015,"y":4.58,"Y":4.6,"v":78},{"x":0.015,"X":0.1,"y":4.58,"Y":4.6,"v":74},{"x":0.1,"X":0.13,"y":4.58,"Y":4.6,"v":73},{"x":0.13,"X":0.165,"y":4.58,"Y":4.6,"v":70},{"x":0.165,"X":0.2012,"y":4.58,"Y":4.6,"v":68},
{"x":0.01,"X":0.015,"y":4.6,"Y":4.62,"v":90},{"x":0.015,"X":0.025,"y":4.6,"Y":4.62,"v":88},{"x":0.025,"X":0.04,"y":4.6,"Y":4.62,"v":86},{"x":0.04,"X":0.07,"y":4.6,"Y":4.62,"v":85},{"x":0.07,"X":0.1,"y":4.6,"Y":4.62,"v":84},{"x":0.1,"X":0.13,"y":4.6,"Y":4.62,"v":82},{"x":0.13,"X":0.165,"y":4.6,"Y":4.62,"v":78},{"x":0.165,"X":0.2012,"y":4.6,"Y":4.62,"v":76},
{"x":0.01,"X":0.04,"y":4.62,"Y":4.64,"v":96},{"x":0.04,"X":0.07,"y":4.62,"Y":4.64,"v":93},{"x":0.07,"X":0.1,"y":4.62,"Y":4.64,"v":92},{"x":0.1,"X":0.13,"y":4.62,"Y":4.64,"v":90},{"x":0.13,"X":0.165,"y":4.62,"Y":4.64,"v":87},{"x":0.165,"X":0.2012,"y":4.62,"Y":4.64,"v":82},
{"x":0.01,"X":0.04,"y":4.64,"Y":4.66,"v":98},{"x":0.04,"X":0.07,"y":4.64,"Y":4.66,"v":96},{"x":0.07,"X":0.1,"y":4.64,"Y":4.66,"v":95},{"x":0.1,"X":0.13,"y":4.64,"Y":4.66,"v":94},{"x":0.13,"X":0.165,"y":4.64,"Y":4.66,"v":92},{"x":0.165,"X":0.2012,"y":4.64,"Y":4.66,"v":90},
{"x":0.01,"X":0.015,"y":4.66,"Y":4.68,"v":104},{"x":0.015,"X":0.025,"y":4.66,"Y":4.68,"v":102},{"x":0.025,"X":0.04,"y":4.66,"Y":4.68,"v":100},{"x":0.04,"X":0.07,"y":4.66,"Y":4.68,"v":98},{"x":0.07,"X":0.1,"y":4.66,"Y":4.68,"v":97},{"x":0.1,"X":0.13,"y":4.66,"Y":4.68,"v":96},{"x":0.13,"X":0.165,"y":4.66,"Y":4.68,"v":95},{"x":0.165,"X":0.2012,"y":4.66,"Y":4.68,"v":93},
{"x":0.01,"X":0.015,"y":4.68,"Y":4.7,"v":82},{"x":0.015,"X":0.04,"y":4.68,"Y":4.7,"v":96},{"x":0.04,"X":0.13,"y":4.68,"Y":4.7,"v":95},{"x":0.13,"X":0.2012,"y":4.68,"Y":4.7,"v":94},
{"x":0.01,"X":0.1,"y":4.7,"Y":4.72,"v":92},{"x":0.1,"X":0.2012,"y":4.7,"Y":4.72,"v":93},
{"x":0.01,"X":0.015,"y":4.72,"Y":4.74,"v":84},{"x":0.015,"X":0.025,"y":4.72,"Y":4.74,"v":82},{"x":0.025,"X":0.04,"y":4.72,"Y":4.74,"v":86},{"x":0.04,"X":0.07,"y":4.72,"Y":4.74,"v":88},{"x":0.07,"X":0.1,"y":4.72,"Y":4.74,"v":89},{"x":0.1,"X":0.13,"y":4.72,"Y":4.74,"v":90},{"x":0.13,"X":0.2012,"y":4.72,"Y":4.74,"v":92},
{"x":0.01,"X":0.015,"y":4.74,"Y":4.76,"v":100},{"x":0.015,"X":0.025,"y":4.74,"Y":4.76,"v":96},{"x":0.025,"X":0.04,"y":4.74,"Y":4.76,"v":92},{"x":0.04,"X":0.07,"y":4.74,"Y":4.76,"v":91},{"x":0.07,"X":0.13,"y":4.74,"Y":4.76,"v":90},{"x":0.13,"X":0.165,"y":4.74,"Y":4.76,"v":91},{"x":0.165,"X":0.2012,"y":4.74,"Y":4.76,"v":92},
{"x":0.01,"X":0.015,"y":4.76,"Y":4.78,"v":96},{"x":0.015,"X":0.025,"y":4.76,"Y":4.78,"v":94},{"x":0.025,"X":0.04,"y":4.76,"Y":4.78,"v":90},{"x":0.04,"X":0.1,"y":4.76,"Y":4.78,"v":88},{"x":0.1,"X":0.13,"y":4.76,"Y":4.78,"v":89},{"x":0.13,"X":0.2012,"y":4.76,"Y":4.78,"v":88},
{"x":0.01,"X":0.015,"y":4.78,"Y":4.8,"v":78},{"x":0.015,"X":0.025,"y":4.78,"Y":4.8,"v":86},{"x":0.025,"X":0.07,"y":4.78,"Y":4.8,"v":85},{"x":0.07,"X":0.13,"y":4.78,"Y":4.8,"v":86},{"x":0.13,"X":0.2012,"y":4.78,"Y":4.8,"v":85},
{"x":0.01,"X":0.015,"y":4.8,"Y":4.82,"v":68},{"x":0.015,"X":0.04,"y":4.8,"Y":4.82,"v":82},{"x":0.04,"X":0.07,"y":4.8,"Y":4.82,"v":81},{"x":0.07,"X":0.1,"y":4.8,"Y":4.82,"v":82},{"x":0.1,"X":0.13,"y":4.8,"Y":4.82,"v":84},{"x":0.13,"X":0.2012,"y":4.8,"Y":4.82,"v":83},
{"x":0.01,"X":0.015,"y":4.82,"Y":4.84,"v":70},{"x":0.015,"X":0.025,"y":4.82,"Y":4.84,"v":78},{"x":0.025,"X":0.04,"y":4.82,"Y":4.84,"v":80},{"x":0.04,"X":0.07,"y":4.82,"Y":4.84,"v":78},{"x":0.07,"X":0.1,"y":4.82,"Y":4.84,"v":81},{"x":0.1,"X":0.165,"y":4.82,"Y":4.84,"v":84},{"x":0.165,"X":0.2012,"y":4.82,"Y":4.84,"v":86},
{"x":0.01,"X":0.015,"y":4.84,"Y":4.86,"v":76},{"x":0.015,"X":0.025,"y":4.84,"Y":4.86,"v":80},{"x":0.025,"X":0.07,"y":4.84,"Y":4.86,"v":83},{"x":0.07,"X":0.1,"y":4.84,"Y":4.86,"v":86},{"x":0.1,"X":0.13,"y":4.84,"Y":4.86,"v":88},{"x":0.13,"X":0.165,"y":4.84,"Y":4.86,"v":90},{"x":0.165,"X":0.2012,"y":4.84,"Y":4.86,"v":92},
{"x":0.01,"X":0.015,"y":4.86,"Y":4.88,"v":90},{"x":0.015,"X":0.025,"y":4.86,"Y":4.88,"v":92},{"x":0.025,"X":0.07,"y":4.86,"Y":4.88,"v":95},{"x":0.07,"X":0.1,"y":4.86,"Y":4.88,"v":97},{"x":0.1,"X":0.13,"y":4.86,"Y":4.88,"v":98},{"x":0.13,"X":0.165,"y":4.86,"Y":4.88,"v":100},{"x":0.165,"X":0.2012,"y":4.86,"Y":4.88,"v":101},
{"x":0.01,"X":0.025,"y":4.88,"Y":4.9,"v":100},{"x":0.025,"X":0.07,"y":4.88,"Y":4.9,"v":105},{"x":0.07,"X":0.1,"y":4.88,"Y":4.9,"v":104},{"x":0.1,"X":0.13,"y":4.88,"Y":4.9,"v":102},{"x":0.13,"X":0.2012,"y":4.88,"Y":4.9,"v":103},
{"x":0.01,"X":0.015,"y":4.9,"Y":4.92,"v":86},{"x":0.015,"X":0.025,"y":4.9,"Y":4.92,"v":106},{"x":0.025,"X":0.04,"y":4.9,"Y":4.92,"v":110},{"x":0.04,"X":0.07,"y":4.9,"Y":4.92,"v":109},{"x":0.07,"X":0.1,"y":4.9,"Y":4.92,"v":107},{"x":0.1,"X":0.165,"y":4.9,"Y":4.92,"v":106},{"x":0.165,"X":0.2012,"y":4.9,"Y":4.92,"v":105},
{"x":0.01,"X":0.015,"y":4.92,"Y":4.94,"v":130},{"x":0.015,"X":0.025,"y":4.92,"Y":4.94,"v":128},{"x":0.025,"X":0.04,"y":4.92,"Y":4.94,"v":118},{"x":0.04,"X":0.1,"y":4.92,"Y":4.94,"v":112},{"x":0.1,"X":0.13,"y":4.92,"Y":4.94,"v":110},{"x":0.13,"X":0.165,"y":4.92,"Y":4.94,"v":109},{"x":0.165,"X":0.2012,"y":4.92,"Y":4.94,"v":108},
{"x":0.01,"X":0.015,"y":4.94,"Y":4.96,"v":106},{"x":0.015,"X":0.025,"y":4.94,"Y":4.96,"v":103},{"x":0.025,"X":0.04,"y":4.94,"Y":4.96,"v":110},{"x":0.04,"X":0.07,"y":4.94,"Y":4.96,"v":112},{"x":0.07,"X":0.1,"y":4.94,"Y":4.96,"v":114},{"x":0.1,"X":0.13,"y":4.94,"Y":4.96,"v":113},{"x":0.13,"X":0.165,"y":4.94,"Y":4.96,"v":112},{"x":0.165,"X":0.2012,"y":4.94,"Y":4.96,"v":110},
{"x":0.01,"X":0.015,"y":4.96,"Y":4.98,"v":68},{"x":0.015,"X":0.025,"y":4.96,"Y":4.98,"v":92},{"x":0.025,"X":0.07,"y":4.96,"Y":4.98,"v":114},{"x":0.07,"X":0.13,"y":4.96,"Y":4.98,"v":116},{"x":0.13,"X":0.165,"y":4.96,"Y":4.98,"v":114},{"x":0.165,"X":0.2012,"y":4.96,"Y":4.98,"v":112},
{"x":0.01,"X":0.015,"y":4.98,"Y":5.01,"v":128},{"x":0.015,"X":0.025,"y":4.98,"Y":5.01,"v":124},{"x":0.025,"X":0.04,"y":4.98,"Y":5.01,"v":118},{"x":0.04,"X":0.07,"y":4.98,"Y":5.01,"v":115},{"x":0.07,"X":0.1,"y":4.98,"Y":5.01,"v":118},{"x":0.1,"X":0.13,"y":4.98,"Y":5.01,"v":117},{"x":0.13,"X":0.165,"y":4.98,"Y":5.01,"v":114},{"x":0.165,"X":0.2012,"y":4.98,"Y":5.01,"v":113}]
},
"hconcat":[
{"bounds":"flush","spacing":96,"resolve":{"scale":{"color":"independent","stroke":"independent"}},"hconcat":[
{"width":1114,"height":1152,"layer":[
{"data":{"name":"a"},"mark":{"type":"rect","strokeWidth":1,"clip":true},"encoding":{
"x":{"field":"x","type":"quantitative","scale":{"domain":[0.01,0.2],"nice":false,"zero":false},"axis":{"title":"Bandwidth (μm)","values":[0.01,0.05,0.1,0.15,0.2],"format":"~g","tickSize":-14,"labelPadding":37,"titlePadding":21,"orient":"bottom"}},
"x2":{"field":"X"},
"y":{"field":"y","type":"quantitative","scale":{"domain":[2,5],"reverse":true,"nice":false,"zero":false},"axis":{"title":"Central wavelength (μm)","values":[2,2.5,3,3.5,4,4.5,5],"format":"~g","tickSize":-14,"labelPadding":36,"titleFontSize":51,"titlePadding":42,"orient":"left"}},
"y2":{"field":"Y"},
"color":{"field":"v","type":"quantitative","legend":null,"scale":{"interpolate":"rgb","zero":false,"domain":[0,0.02,0.0465,0.0695,0.1,0.129,0.165,0.197,0.225,0.2665,0.311,0.35,0.389,0.42,0.45,0.475,0.5],"range":["#000000","#050a20","#121c4c","#22208c","#4020b8","#5420c4","#8a2c9e","#b83478","#ff3344","#ff4a00","#ff8000","#f0a800","#eecc00","#e4dc50","#e2e890","#eaf2c8","#ffffff"]}},
"stroke":{"field":"v","type":"quantitative","legend":null,"scale":{"interpolate":"rgb","zero":false,"domain":[0,0.02,0.0465,0.0695,0.1,0.129,0.165,0.197,0.225,0.2665,0.311,0.35,0.389,0.42,0.45,0.475,0.5],"range":["#000000","#050a20","#121c4c","#22208c","#4020b8","#5420c4","#8a2c9e","#b83478","#ff3344","#ff4a00","#ff8000","#f0a800","#eecc00","#e4dc50","#e2e890","#eaf2c8","#ffffff"]}}}},
{"data":{"name":"frameA"},"mark":{"type":"rect","filled":false,"stroke":"black","strokeWidth":2},"encoding":{
"x":{"field":"x","type":"quantitative","scale":{"domain":[0.01,0.2],"nice":false,"zero":false},"axis":{"orient":"top","title":null,"labels":false,"values":[0.01,0.05,0.1,0.15,0.2],"tickSize":-14}},
"x2":{"field":"X"},
"y":{"field":"y","type":"quantitative","scale":{"domain":[2,5],"reverse":true,"nice":false,"zero":false},"axis":{"orient":"right","title":null,"labels":false,"values":[2,2.5,3,3.5,4,4.5,5],"tickSize":-14}},
"y2":{"field":"Y"}}},
{"data":{"values":[{"x":0.0896,"y":5.67,"t":"("},{"x":0.0996,"y":5.67,"t":") Contrast"}]},"mark":{"type":"text","align":"left","baseline":"alphabetic","font":"Liberation Serif","fontSize":70,"color":"black","clip":false},"encoding":{"x":{"field":"x","type":"quantitative","axis":null,"scale":{"domain":[0.01,0.2],"nice":false,"zero":false}},"y":{"field":"y","type":"quantitative","axis":null,"scale":{"domain":[2,5],"reverse":true,"nice":false,"zero":false}},"text":{"field":"t"}}},
{"data":{"values":[{"x":0.0936,"y":5.67,"t":"a"}]},"mark":{"type":"text","align":"left","baseline":"alphabetic","font":"Liberation Serif","fontWeight":"bold","fontSize":70,"color":"black","clip":false},"encoding":{"x":{"field":"x","type":"quantitative","axis":null,"scale":{"domain":[0.01,0.2],"nice":false,"zero":false}},"y":{"field":"y","type":"quantitative","axis":null,"scale":{"domain":[2,5],"reverse":true,"nice":false,"zero":false}},"text":{"field":"t"}}}
],"resolve":{"axis":{"x":"independent","y":"independent"}}},
{"width":124,"height":1152,"data":{"values":[{"x":0,"X":1,"lo":0,"hi":0.5}]},"layer":[
{"mark":{"type":"rect","color":{"gradient":"linear","x1":0,"y1":1,"x2":0,"y2":0,"stops":[{"offset":0,"color":"#000000"},{"offset":0.04,"color":"#050a20"},{"offset":0.093,"color":"#121c4c"},{"offset":0.139,"color":"#22208c"},{"offset":0.2,"color":"#4020b8"},{"offset":0.258,"color":"#5420c4"},{"offset":0.33,"color":"#8a2c9e"},{"offset":0.394,"color":"#b83478"},{"offset":0.45,"color":"#ff3344"},{"offset":0.533,"color":"#ff4a00"},{"offset":0.622,"color":"#ff8000"},{"offset":0.7,"color":"#f0a800"},{"offset":0.778,"color":"#eecc00"},{"offset":0.84,"color":"#e4dc50"},{"offset":0.9,"color":"#e2e890"},{"offset":0.95,"color":"#eaf2c8"},{"offset":1,"color":"#ffffff"}]}},"encoding":{
"x":{"field":"x","type":"quantitative","axis":null,"scale":{"domain":[0,1],"nice":false}},"x2":{"field":"X"},
"y":{"field":"lo","type":"quantitative","scale":{"domain":[0,0.5],"nice":false},"axis":{"orient":"right","title":null,"values":[0,0.1,0.2,0.3,0.4,0.5],"format":"~g","tickSize":-12,"labelPadding":31}},"y2":{"field":"hi"}}},
{"mark":{"type":"rect","filled":false,"stroke":"black","strokeWidth":2},"encoding":{
"x":{"field":"x","type":"quantitative","axis":null,"scale":{"domain":[0,1],"nice":false}},"x2":{"field":"X"},
"y":{"field":"lo","type":"quantitative","scale":{"domain":[0,0.5],"nice":false},"axis":{"orient":"left","title":null,"labels":false,"values":[0,0.1,0.2,0.3,0.4,0.5],"tickSize":-8}},"y2":{"field":"hi"}}}
],"resolve":{"axis":{"y":"independent"}}}
]},
{"bounds":"flush","spacing":95,"resolve":{"scale":{"color":"independent","stroke":"independent"}},"hconcat":[
{"width":1100,"height":1152,"layer":[
{"data":{"name":"b"},"mark":{"type":"rect","strokeWidth":1,"clip":true},"encoding":{
"x":{"field":"x","type":"quantitative","scale":{"domain":[0.01,0.2012],"nice":false,"zero":false},"axis":{"title":"Bandwidth (μm)","values":[0.01,0.05,0.1,0.15,0.2],"format":"~g","tickSize":-14,"labelPadding":37,"titlePadding":21,"orient":"bottom"}},
"x2":{"field":"X"},
"y":{"field":"y","type":"quantitative","scale":{"domain":[2,5.01],"reverse":true,"nice":false,"zero":false},"axis":{"title":"Central wavelength (μm)","values":[2,2.5,3,3.5,4,4.5,5],"format":"~g","tickSize":-14,"labelPadding":36,"titleFontSize":51,"titlePadding":42,"orient":"left"}},
"y2":{"field":"Y"},
"color":{"field":"v","type":"quantitative","legend":null,"scale":{"interpolate":"rgb","zero":false,"domain":[6.2,11.8,19.2,25.6,34.1,42.2,52.2,61.1,68.9,80.5,92.9,103.8,114.6,123.3,131.7,138.6,145.6],"range":["#000000","#050a20","#121c4c","#22208c","#4020b8","#5420c4","#8a2c9e","#b83478","#ff3344","#ff4a00","#ff8000","#f0a800","#eecc00","#e4dc50","#e2e890","#eaf2c8","#ffffff"]}},
"stroke":{"field":"v","type":"quantitative","legend":null,"scale":{"interpolate":"rgb","zero":false,"domain":[6.2,11.8,19.2,25.6,34.1,42.2,52.2,61.1,68.9,80.5,92.9,103.8,114.6,123.3,131.7,138.6,145.6],"range":["#000000","#050a20","#121c4c","#22208c","#4020b8","#5420c4","#8a2c9e","#b83478","#ff3344","#ff4a00","#ff8000","#f0a800","#eecc00","#e4dc50","#e2e890","#eaf2c8","#ffffff"]}}}},
{"data":{"name":"frameB"},"mark":{"type":"rect","filled":false,"stroke":"black","strokeWidth":2},"encoding":{
"x":{"field":"x","type":"quantitative","scale":{"domain":[0.01,0.2012],"nice":false,"zero":false},"axis":{"orient":"top","title":null,"labels":false,"values":[0.01,0.05,0.1,0.15,0.2],"tickSize":-14}},
"x2":{"field":"X"},
"y":{"field":"y","type":"quantitative","scale":{"domain":[2,5.01],"reverse":true,"nice":false,"zero":false},"axis":{"orient":"right","title":null,"labels":false,"values":[2,2.5,3,3.5,4,4.5,5],"tickSize":-14}},
"y2":{"field":"Y"}}},
{"data":{"values":[{"x":0.0933,"y":5.681,"t":"("},{"x":0.1033,"y":5.681,"t":") SNR"}]},"mark":{"type":"text","align":"left","baseline":"alphabetic","font":"Liberation Serif","fontSize":66,"color":"black","clip":false},"encoding":{"x":{"field":"x","type":"quantitative","axis":null,"scale":{"domain":[0.01,0.2012],"nice":false,"zero":false}},"y":{"field":"y","type":"quantitative","axis":null,"scale":{"domain":[2,5.01],"reverse":true,"nice":false,"zero":false}},"text":{"field":"t"}}},
{"data":{"values":[{"x":0.0969,"y":5.681,"t":"b"}]},"mark":{"type":"text","align":"left","baseline":"alphabetic","font":"Liberation Serif","fontWeight":"bold","fontSize":66,"color":"black","clip":false},"encoding":{"x":{"field":"x","type":"quantitative","axis":null,"scale":{"domain":[0.01,0.2012],"nice":false,"zero":false}},"y":{"field":"y","type":"quantitative","axis":null,"scale":{"domain":[2,5.01],"reverse":true,"nice":false,"zero":false}},"text":{"field":"t"}}}
],"resolve":{"axis":{"x":"independent","y":"independent"}}},
{"width":123,"height":1152,"data":{"values":[{"x":0,"X":1,"lo":6.2,"hi":145.6}]},"layer":[
{"mark":{"type":"rect","color":{"gradient":"linear","x1":0,"y1":1,"x2":0,"y2":0,"stops":[{"offset":0,"color":"#000000"},{"offset":0.04,"color":"#050a20"},{"offset":0.093,"color":"#121c4c"},{"offset":0.139,"color":"#22208c"},{"offset":0.2,"color":"#4020b8"},{"offset":0.258,"color":"#5420c4"},{"offset":0.33,"color":"#8a2c9e"},{"offset":0.394,"color":"#b83478"},{"offset":0.45,"color":"#ff3344"},{"offset":0.533,"color":"#ff4a00"},{"offset":0.622,"color":"#ff8000"},{"offset":0.7,"color":"#f0a800"},{"offset":0.778,"color":"#eecc00"},{"offset":0.84,"color":"#e4dc50"},{"offset":0.9,"color":"#e2e890"},{"offset":0.95,"color":"#eaf2c8"},{"offset":1,"color":"#ffffff"}]}},"encoding":{
"x":{"field":"x","type":"quantitative","axis":null,"scale":{"domain":[0,1],"nice":false}},"x2":{"field":"X"},
"y":{"field":"lo","type":"quantitative","scale":{"domain":[6.2,145.6],"nice":false,"zero":false},"axis":{"orient":"right","title":null,"values":[20,40,60,80,100,120,140],"format":"d","tickSize":-16,"labelPadding":36}},"y2":{"field":"hi"}}},
{"mark":{"type":"rect","filled":false,"stroke":"black","strokeWidth":2},"encoding":{
"x":{"field":"x","type":"quantitative","axis":null,"scale":{"domain":[0,1],"nice":false}},"x2":{"field":"X"},
"y":{"field":"lo","type":"quantitative","scale":{"domain":[6.2,145.6],"nice":false,"zero":false},"axis":{"orient":"left","title":null,"labels":false,"values":[20,40,60,80,100,120,140],"tickSize":-13}},"y2":{"field":"hi"}}}
],"resolve":{"axis":{"y":"independent"}}}
]}
]}
